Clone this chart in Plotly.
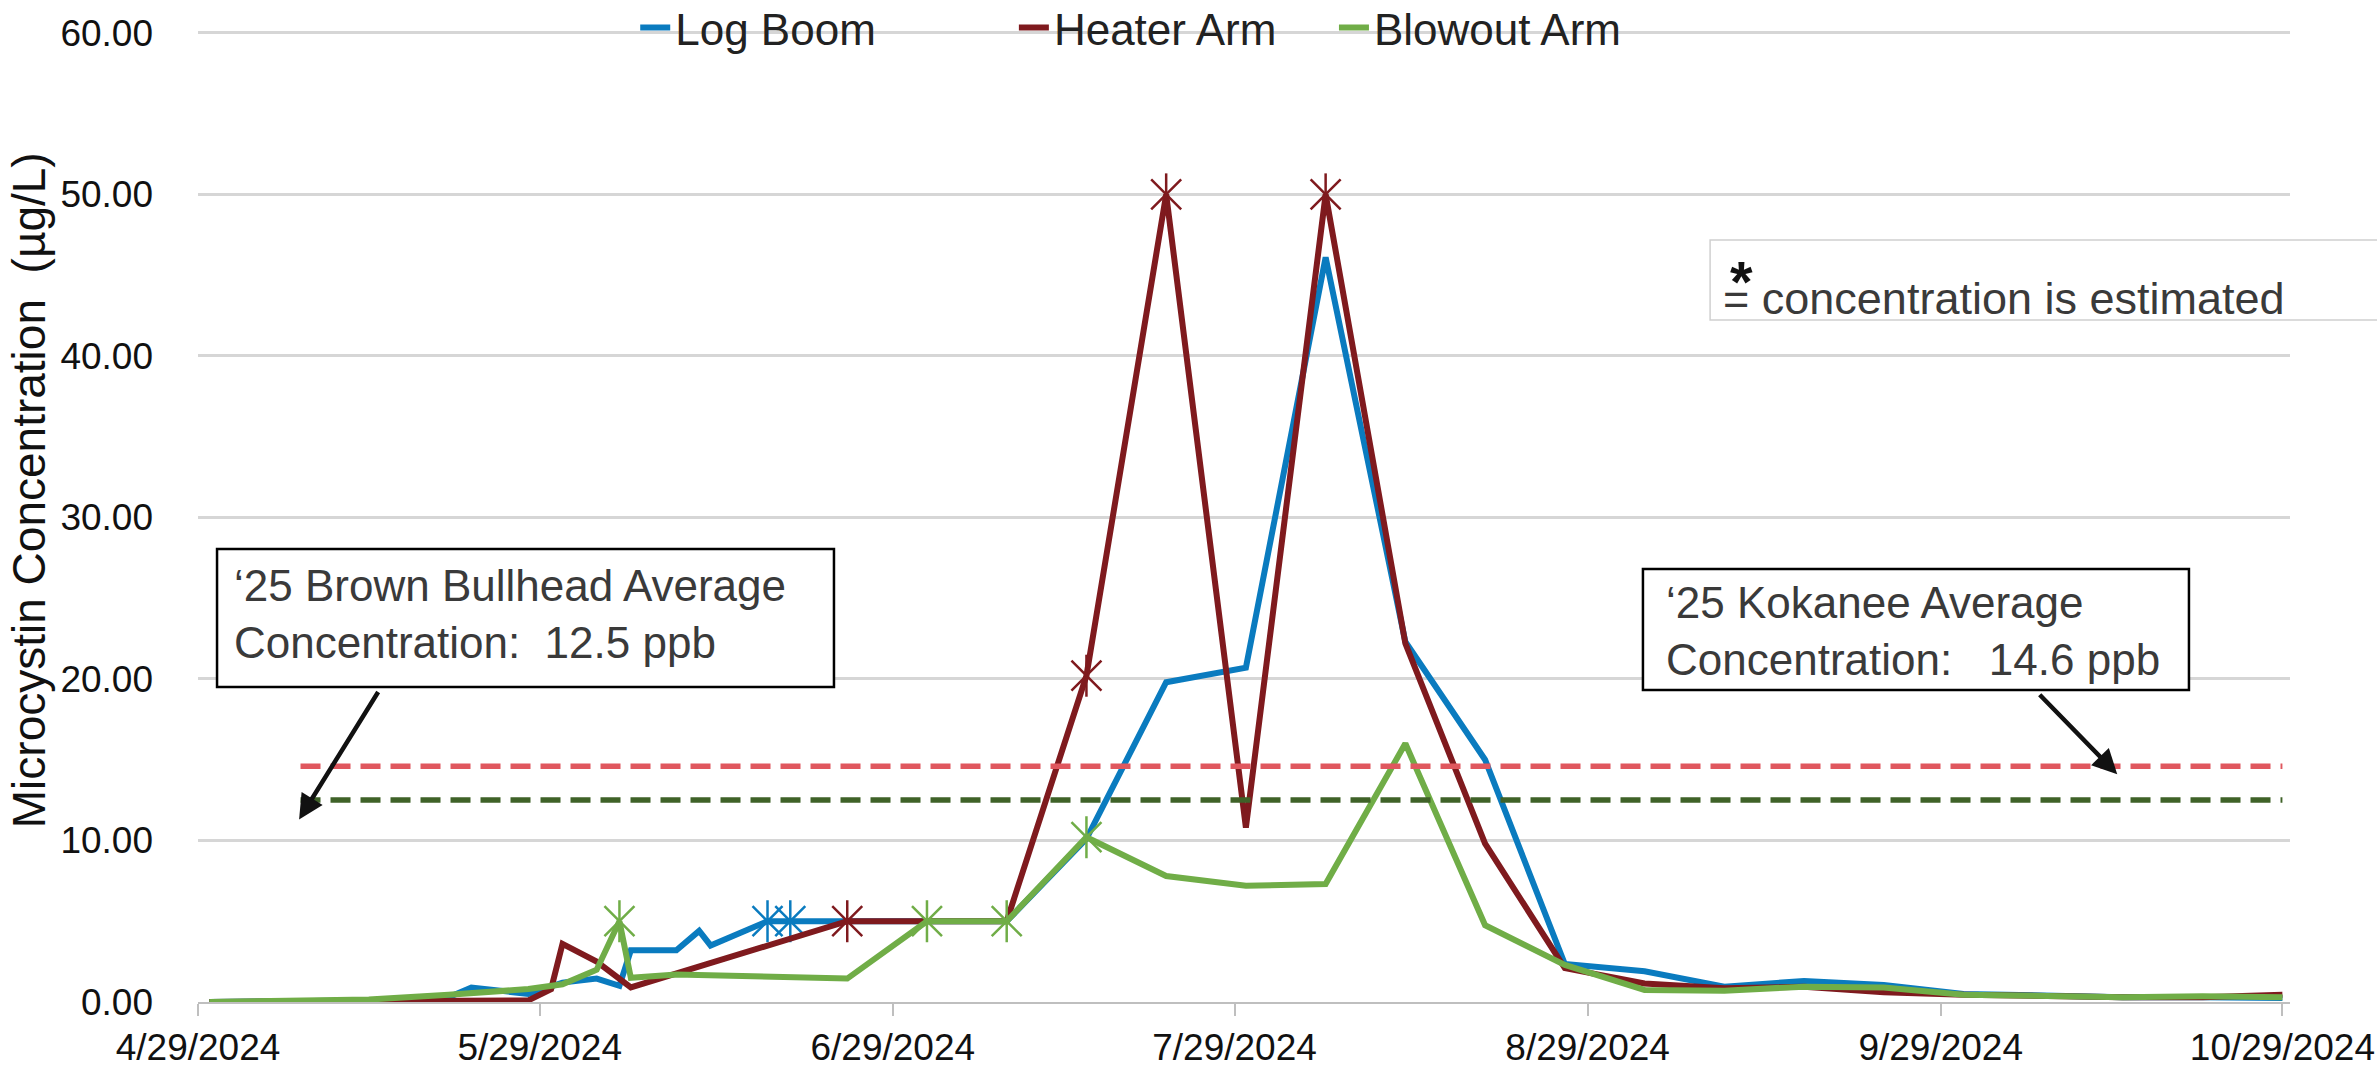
import plotly.graph_objects as go

# ---------------- data ----------------
log_dates = ["2024-04-30", "2024-05-14", "2024-05-21", "2024-05-23", "2024-05-28", "2024-05-31",
             "2024-06-03", "2024-06-05", "2024-06-06", "2024-06-10", "2024-06-12", "2024-06-13",
             "2024-06-18", "2024-06-20", "2024-06-25", "2024-07-02", "2024-07-09", "2024-07-16",
             "2024-07-23", "2024-07-30", "2024-08-06", "2024-08-13", "2024-08-20", "2024-08-27",
             "2024-09-03", "2024-09-10", "2024-09-17", "2024-09-24", "2024-10-01", "2024-10-08",
             "2024-10-15", "2024-10-22", "2024-10-29"]
log_vals = [0.0, 0.1, 0.3, 0.9, 0.5, 1.2,
            1.45, 1.0, 3.2, 3.2, 4.4, 3.5,
            5.0, 5.0, 5.0, 5.0, 5.0, 10.1,
            19.8, 20.7, 46.1, 22.3, 15.0, 2.35,
            1.9, 0.95, 1.3, 1.05, 0.5, 0.4,
            0.3, 0.3, 0.25]
log_est = [0, 0, 0, 0, 0, 0,
           0, 0, 0, 0, 0, 0,
           1, 1, 0, 0, 0, 0,
           0, 0, 0, 0, 0, 0,
           0, 0, 0, 0, 0, 0,
           0, 0, 0]

heater_dates = ["2024-04-30", "2024-05-14", "2024-05-21", "2024-05-28", "2024-05-30", "2024-05-31",
                "2024-06-03", "2024-06-06", "2024-06-25", "2024-07-02", "2024-07-09", "2024-07-16",
                "2024-07-23", "2024-07-30", "2024-08-06", "2024-08-13", "2024-08-20", "2024-08-27",
                "2024-09-03", "2024-09-10", "2024-09-17", "2024-09-24", "2024-10-01", "2024-10-15",
                "2024-10-22", "2024-10-29"]
heater_vals = [0.0, 0.05, 0.1, 0.1, 0.8, 3.6,
               2.5, 0.9, 5.0, 5.0, 5.0, 20.2,
               50.0, 10.8, 50.0, 22.2, 9.8, 2.1,
               1.15, 0.85, 0.95, 0.6, 0.45, 0.3,
               0.3, 0.45]
heater_est = [0, 0, 0, 0, 0, 0,
              0, 0, 1, 0, 0, 1,
              1, 0, 1, 0, 0, 0,
              0, 0, 0, 0, 0, 0,
              0, 0]

blowout_dates = ["2024-04-30", "2024-05-14", "2024-05-21", "2024-05-28", "2024-05-31", "2024-06-03",
                 "2024-06-05", "2024-06-06", "2024-06-10", "2024-06-25", "2024-07-02", "2024-07-09",
                 "2024-07-16", "2024-07-23", "2024-07-30", "2024-08-06", "2024-08-13", "2024-08-20",
                 "2024-08-27", "2024-09-03", "2024-09-10", "2024-09-17", "2024-09-24", "2024-10-01",
                 "2024-10-15", "2024-10-22", "2024-10-29"]
blowout_vals = [0.0, 0.15, 0.45, 0.8, 1.1, 2.0,
                5.0, 1.5, 1.7, 1.45, 5.0, 5.0,
                10.2, 7.8, 7.2, 7.3, 16.0, 4.75,
                2.3, 0.75, 0.7, 0.95, 0.9, 0.45,
                0.3, 0.35, 0.3]
blowout_est = [0, 0, 0, 0, 0, 0,
               1, 0, 0, 0, 1, 1,
               1, 0, 0, 0, 0, 0,
               0, 0, 0, 0, 0, 0,
               0, 0, 0]

avg_line_dates = ["2024-05-08", "2024-10-29"]
kokanee_avg = 14.6
bullhead_avg = 12.5

tick_dates = ["2024-04-29", "2024-05-29", "2024-06-29", "2024-07-29", "2024-08-29", "2024-09-29", "2024-10-29"]
tick_text = ["4/29/2024", "5/29/2024", "6/29/2024", "7/29/2024", "8/29/2024", "9/29/2024", "10/29/2024"]
y_ticks = [0, 10, 20, 30, 40, 50, 60]

# ---------------- styles ----------------
FONT = "Liberation Sans, Arial, sans-serif"
C_LOG = "#0A7BBF"
C_HEAT = "#7F1A1E"
C_BLOW = "#70AD47"
C_KOK = "#E0575E"
C_BULL = "#3F6228"

fig = go.Figure()

series = [
    ("Log Boom", log_dates, log_vals, log_est, C_LOG, "legend"),
    ("Heater Arm", heater_dates, heater_vals, heater_est, C_HEAT, "legend2"),
    ("Blowout Arm", blowout_dates, blowout_vals, blowout_est, C_BLOW, "legend3"),
]

for name, xs, ys, est, col, lg in series:
    fig.add_trace(go.Scatter(x=xs, y=ys, mode="lines", name=name, legend=lg,
                             line=dict(color=col, width=6), showlegend=True))
    ex = [x for x, e in zip(xs, est) if e]
    ey = [y for y, e in zip(ys, est) if e]
    for sym in ("x-thin-open", "line-ns-open"):
        fig.add_trace(go.Scatter(x=ex, y=ey, mode="markers", showlegend=False, hoverinfo="skip",
                                 marker=dict(symbol=sym, size=30, color=col,
                                             line=dict(color=col, width=2.5))))

fig.add_trace(go.Scatter(x=avg_line_dates, y=[kokanee_avg] * len(avg_line_dates), mode="lines",
                         showlegend=False, line=dict(color=C_KOK, width=5.5, dash="20px,10px")))
fig.add_trace(go.Scatter(x=avg_line_dates, y=[bullhead_avg] * len(avg_line_dates), mode="lines",
                         showlegend=False, line=dict(color=C_BULL, width=5.5, dash="20px,10px")))

# ---------------- annotations / boxes ----------------
shapes = [
    dict(type="rect", xref="paper", yref="paper", x0=0.0091, x1=0.304, y0=0.3234, y1=0.4651,
         line=dict(color="black", width=2.5), fillcolor="white", layer="above"),
    dict(type="rect", xref="paper", yref="paper", x0=0.6907, x1=0.9517, y0=0.3203, y1=0.4446,
         line=dict(color="black", width=2.5), fillcolor="white", layer="above"),
    dict(type="rect", xref="paper", yref="paper", x0=0.7228, x1=1.2, y0=0.7002, y1=0.7823,
         line=dict(color="#D0D0D0", width=1.5), fillcolor="white", layer="above"),
]

ann_font = dict(family=FONT, size=44, color="#3A3A3A")
annotations = [
    dict(xref="paper", yref="paper", x=0.0162, y=0.398, xanchor="left", yanchor="middle", align="left",
         showarrow=False, font=ann_font,
         text="‘25 Brown Bullhead Average<br>Concentration:\u00a0 12.5 ppb"),
    dict(xref="paper", yref="paper", x=0.701, y=0.381, xanchor="left", yanchor="middle", align="left",
         showarrow=False, font=ann_font,
         text="‘25 Kokanee Average<br>Concentration:\u00a0\u00a0 14.6 ppb"),
    dict(xref="paper", yref="paper", x=0.7312, y=0.740, xanchor="left", yanchor="middle",
         showarrow=False, font=dict(family=FONT, size=58, color="#111111"), text="<b>*</b>"),
    dict(xref="paper", yref="paper", x=0.728, y=0.722, xanchor="left", yanchor="middle",
         showarrow=False, font=dict(family=FONT, size=45, color="#3A3A3A"),
         text="= concentration is estimated"),
    # arrows
    dict(x="2024-05-07 21:00", y=11.3, xref="x", yref="y", text="", showarrow=True,
         ax=80, ay=-129, arrowhead=2, arrowsize=1.1, arrowwidth=4.5, arrowcolor="#111111"),
    dict(x="2024-10-14 12:00", y=14.1, xref="x", yref="y", text="", showarrow=True,
         ax=-79, ay=-81, arrowhead=2, arrowsize=1.1, arrowwidth=4.5, arrowcolor="#111111"),
    # y title
    dict(xref="paper", yref="paper", x=-0.081, y=0.525, xanchor="center", yanchor="middle",
         textangle=-90, showarrow=False, font=dict(family=FONT, size=46, color="#111111"),
         text="Microcystin Concentration\u00a0 (µg/L)"),
]

leg_common = dict(orientation="h", y=1.0, yanchor="middle", bgcolor="rgba(0,0,0,0)",
                  font=dict(family=FONT, size=44, color="#222222"), itemwidth=30)

fig.update_layout(
    width=2377, height=1067,
    margin=dict(l=198, r=87, t=28, b=65, autoexpand=False),
    paper_bgcolor="white", plot_bgcolor="white",
    font=dict(family=FONT, size=37, color="#111111"),
    shapes=shapes, annotations=annotations,
    legend=dict(x=0.209, xanchor="left", **leg_common),
    legend2=dict(x=0.390, xanchor="left", **leg_common),
    legend3=dict(x=0.543, xanchor="left", **leg_common),
    showlegend=True,
)

fig.update_xaxes(
    type="date", range=["2024-04-29", "2024-10-29 16:00"],
    tickvals=tick_dates, ticktext=tick_text,
    showgrid=False, showline=True, linecolor="#BFBFBF", linewidth=2,
    ticks="outside", ticklen=12, tickcolor="#BFBFBF", tickwidth=2,
    tickfont=dict(family=FONT, size=37, color="#111111"),
    zeroline=False,
)
fig.update_yaxes(
    range=[0, 60.3], tickvals=y_ticks, ticktext=[f"{v:.2f}" for v in y_ticks],
    showgrid=True, gridcolor="#D6D6D6", gridwidth=2.5,
    showline=False, zeroline=False, ticks="",
    ticklabelstandoff=44,
    tickfont=dict(family=FONT, size=37, color="#111111"),
)

fig.write_html("out.html", config={"displayModeBar": False},
               post_script="document.body.style.margin='0px';document.body.style.overflow='hidden';")
